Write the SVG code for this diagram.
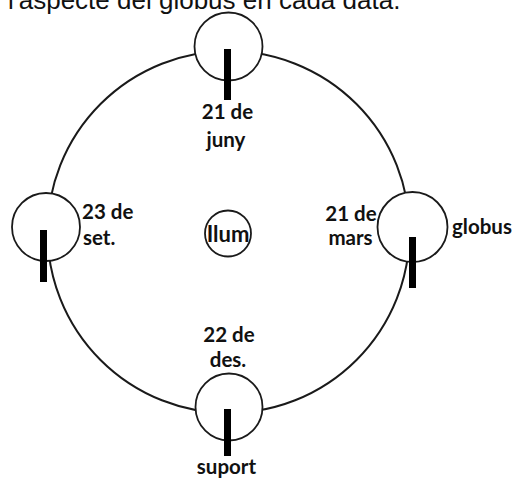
<svg xmlns="http://www.w3.org/2000/svg" width="514" height="482" viewBox="0 0 514 482">
  <style>
    .orbit { fill: none; stroke: #1a1a1a; stroke-width: 2; }
    .globe { fill: #ffffff; stroke: #1a1a1a; stroke-width: 1.8; }
    .axis { fill: #000000; }
    .lbl { font-family: Lato, "Open Sans", "Liberation Sans", sans-serif; font-weight: 700; font-size: 20.5px; fill: #111111; }
    .big { font-size: 22px; }
    .title { font-family: "Liberation Sans", Arial, sans-serif; font-size: 26px; fill: #111111; }
  </style>
  <rect x="0" y="0" width="514" height="482" fill="#ffffff"/>

  <text class="title" x="8" y="9">l'aspecte del globus en cada data.</text>

  <g id="connectors">
    <circle class="orbit" cx="228.5" cy="232" r="181"/>
  </g>

  <g id="llum">
    <circle class="globe" cx="228" cy="233.5" r="23"/>
    <text class="lbl big" x="228" y="241.5" text-anchor="middle">Ilum</text>
  </g>

  <g id="juny">
    <circle class="globe" cx="228.5" cy="46.5" r="34"/>
    <rect class="axis" x="224" y="49" width="7" height="51"/>
    <text class="lbl" x="227.5" y="119" text-anchor="middle">21 de</text>
    <text class="lbl" x="226" y="147" text-anchor="middle">juny</text>
  </g>

  <g id="setembre">
    <circle class="globe" cx="46" cy="227" r="34"/>
    <rect class="axis" x="40" y="230" width="7" height="52"/>
    <text class="lbl" x="82" y="219">23 de</text>
    <text class="lbl" x="83" y="245">set.</text>
  </g>

  <g id="mars">
    <circle class="globe" cx="412.5" cy="227" r="35"/>
    <rect class="axis" x="409" y="237" width="7" height="51"/>
    <text class="lbl" x="351" y="221" text-anchor="middle">21 de</text>
    <text class="lbl" x="350.5" y="245" text-anchor="middle">mars</text>
    <text class="lbl" x="452" y="234">globus</text>
  </g>

  <g id="desembre">
    <circle class="globe" cx="229" cy="407" r="33.5"/>
    <rect class="axis" x="224" y="409" width="7" height="47"/>
    <text class="lbl" x="229" y="342" text-anchor="middle">22 de</text>
    <text class="lbl" x="228" y="367" text-anchor="middle">des.</text>
    <text class="lbl" x="226.5" y="474" text-anchor="middle">suport</text>
  </g>
</svg>
